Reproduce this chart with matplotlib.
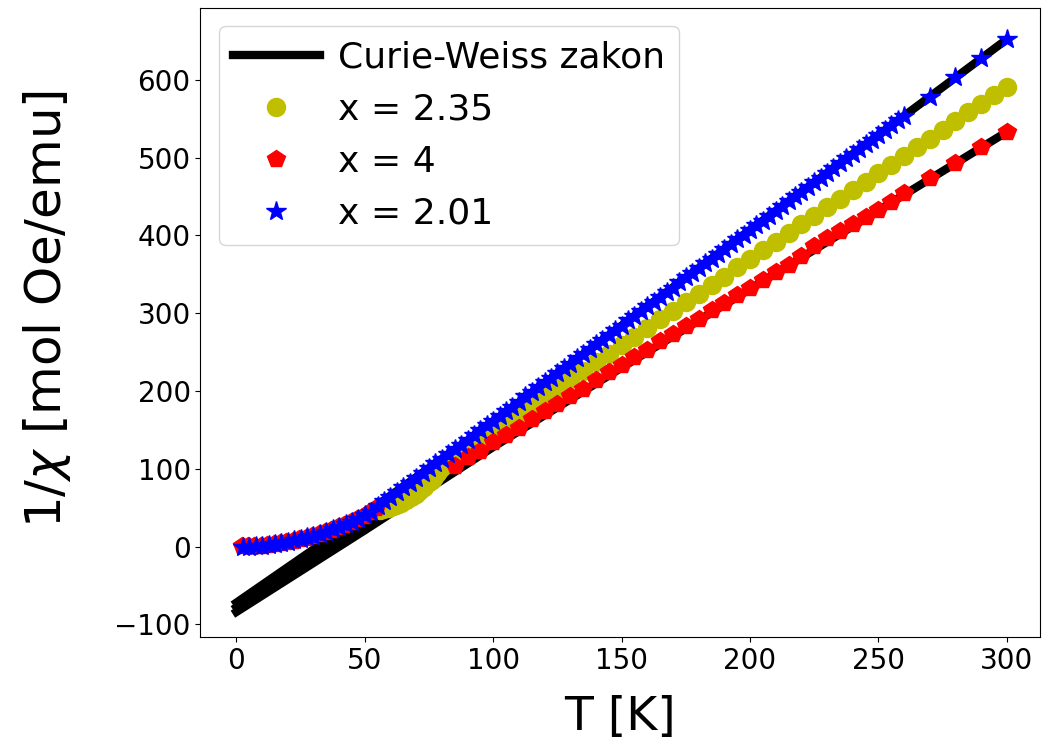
import matplotlib
matplotlib.use("Agg")
import matplotlib.pyplot as plt

# Curie-Weiss fit curves
t_fit = [0, 50, 100, 150, 200, 250, 300]
fit_201 = [-72, 42, 160, 284, 407, 529, 652]
fit_235 = [-78, 33, 145, 257, 368, 480, 591]
fit_4 = [-84, 21, 128, 230, 331, 432, 533]

# x = 2.35 (yellow circles)
t_235 = [56, 57, 58, 59, 60, 61, 62, 63, 64, 65, 66, 67, 68, 69, 70, 71, 72, 73, 74, 75, 76, 77, 78, 79,
         80, 85, 90, 95, 100, 105, 110, 115, 120, 125, 130, 135, 140, 145, 150, 155, 160, 165,
         170, 175, 180, 185, 190, 195, 200, 205, 210, 215, 220, 225, 230, 235, 240, 245, 250,
         255, 260, 265, 270, 275, 280, 285, 290, 295, 300]
y_235 = [47, 48, 49, 50, 51, 52, 53, 55, 56, 58, 60, 62, 64, 66, 68, 71, 74, 77, 80, 83, 86, 90, 94, 98,
         102, 115, 126, 137, 148, 159, 170, 182, 193, 204, 215, 226, 237, 248, 259, 270, 281, 292,
         303, 314, 325, 336, 347, 359, 370, 381, 392, 403, 414, 425, 436, 447, 458, 469, 480,
         491, 502, 513, 524, 536, 547, 558, 569, 580, 591]

# x = 4 (red pentagons)
t_4 = [2, 4.5, 7, 9.5, 12, 14.5, 17, 19.5, 22, 24.5, 27, 29.5, 32, 34.5, 37, 39.5, 42, 44.5,
       47, 49.5, 52, 54.5,
       85, 90, 95, 100, 105, 110, 115, 120, 125, 130, 135, 140, 145, 150, 155, 160, 165,
       170, 175, 180, 185, 190, 195, 200, 205, 210, 215, 220, 225, 230, 235, 240, 245,
       250, 255, 260, 270, 280, 290, 300]
y_4 = [0.5, 0.5, 1, 1, 2, 3, 4, 6, 7.5, 9.5, 11.5, 13.5, 16, 18.5, 21.5, 25, 28, 31.5, 35.5, 39.5, 44, 50,
       104, 115, 123, 134, 144, 153, 164, 174, 183, 194, 203, 214, 224, 233, 244, 253, 264,
       273, 284, 293, 304, 313, 323, 333, 343, 353, 362, 373, 386, 397, 405, 414, 424,
       433, 443, 454, 474, 493, 513, 533]

# x = 2.01 (blue stars)
t_201 = [2.5, 5, 7.5, 10, 12.5, 15, 17.5, 20, 22.5, 25, 27.5, 30, 32.5, 35, 37.5, 40, 42.5, 45,
         47.5, 50, 52.5, 55, 57.5, 60, 62.5, 65, 67.5, 70, 72.5, 75, 77.5, 80, 82.5, 85, 87.5,
         90, 92.5, 95, 97.5, 100, 102.5, 105, 107.5, 110, 112.5, 115, 117.5, 120, 122.5, 125,
         127.5, 130, 132.5, 135, 137.5, 140, 142.5, 145, 147.5, 150, 152.5, 155, 157.5, 160,
         162.5, 165, 167.5, 170, 172.5, 175, 177.5, 180, 182.5, 185, 187.5, 190, 192.5, 195,
         197.5, 200, 202.5, 205, 207.5, 210, 212.5, 215, 217.5, 220, 222.5, 225, 227.5, 230,
         232.5, 235, 237.5, 240, 242.5, 245, 247.5, 250, 252.5, 255, 257.5, 260,
         270, 280, 290, 300]
y_201 = [0, 0, 0.5, 1, 2, 3, 4.5, 6, 8, 10, 12, 14, 16.5, 19, 22, 25, 28.5, 32, 36, 40, 45, 52,
         58, 64, 70, 76, 82, 88, 95, 101, 107, 113, 119, 125, 131,
         137, 144, 150, 156, 162, 168, 174, 180, 186, 193, 199, 205, 211, 217, 223,
         229, 235, 242, 248, 254, 260, 266, 272, 278, 284, 291, 297, 303, 309,
         315, 321, 327, 333, 340, 346, 352, 358, 364, 370, 376, 382, 389, 395,
         401, 407, 413, 419, 425, 431, 438, 444, 450, 456, 462, 468, 474, 480,
         487, 493, 499, 505, 511, 517, 523, 529, 536, 542, 548, 554,
         578, 603, 628, 652]

fig = plt.figure(figsize=(10.55, 7.44), dpi=100)
ax = fig.add_axes([0.19, 0.144, 0.796, 0.845])

ax.plot(t_fit, fit_201, color='k', lw=6, label='Curie-Weiss zakon')
ax.plot(t_fit, fit_235, color='k', lw=6)
ax.plot(t_fit, fit_4, color='k', lw=6)
ax.plot(t_235, y_235, 'yo', ms=13, lw=0, label='x = 2.35')
ax.plot(t_4, y_4, 'rp', ms=13, lw=0, label='x = 4')
ax.plot(t_201, y_201, 'b*', ms=15, lw=0, label='x = 2.01')

ax.set_xlim(-14, 313)
ax.set_ylim(-116, 692)
ax.set_xticks([0, 50, 100, 150, 200, 250, 300])
ax.set_yticks([-100, 0, 100, 200, 300, 400, 500, 600])
ax.tick_params(labelsize=20)
ax.set_xlabel('T [K]', fontsize=34)
ax.set_ylabel(r'1/$\chi$ [mol Oe/emu]', fontsize=36)
ax.xaxis.set_label_coords(0.5, -0.093)
ax.yaxis.set_label_coords(-0.152, 0.522)
ax.legend(loc='upper left', fontsize=26, handlelength=2.4, handletextpad=0.5)

fig.savefig('out.png', dpi=100)
